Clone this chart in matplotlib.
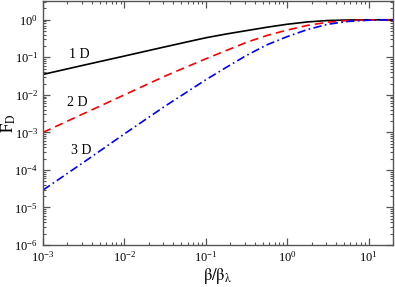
import matplotlib
matplotlib.use("Agg")
import matplotlib.pyplot as plt
from matplotlib.ticker import LogLocator, NullFormatter

plt.rcParams['font.family'] = ['Liberation Serif', 'DejaVu Serif']
plt.rcParams['mathtext.fontset'] = 'stix'

beta = [0.001, 0.00316, 0.01, 0.0316, 0.0562, 0.1, 0.178, 0.316, 0.562, 1.0, 1.78, 3.16, 5.62, 10.0, 20.0]
f_1d = [0.035, 0.0617, 0.108, 0.19, 0.251, 0.331, 0.417, 0.513, 0.631, 0.759, 0.875, 0.955, 0.986, 0.998, 1.0]
f_2d = [0.001, 0.00316, 0.01, 0.0316, 0.0537, 0.091, 0.151, 0.25, 0.38, 0.531, 0.708, 0.861, 0.955, 0.989, 1.0]
f_3d = [2.9e-5, 1.6e-4, 9.1e-4, 5.0e-3, 0.0112, 0.0251, 0.0537, 0.112, 0.214, 0.355, 0.55, 0.759, 0.902, 0.973, 1.0]
labels = ["1 D", "2 D", "3 D"]
label_pos = [(0.00277, 0.122), (0.00265, 0.0062), (0.00292, 3.2e-4)]

fig = plt.figure(figsize=(3.95, 2.87), dpi=100)
ax = fig.add_axes([43/395, 42/287, 350/395, 244/287])

ax.plot(beta, f_1d, color='black', lw=1.2, ls='-')
ax.plot(beta, f_2d, color='red', lw=1.2, ls=(0, (5, 3)))
ax.plot(beta, f_3d, color='blue', lw=1.2, ls=(0, (5, 2, 1, 2)))

for t, (x, y) in zip(labels, label_pos):
    ax.text(x, y, t, fontsize=10, ha='center', va='center')

ax.set_xscale('log')
ax.set_yscale('log')
ax.set_xlim(1e-3, 20)
ax.set_ylim(1e-6, 3.16)

ax.xaxis.set_major_locator(LogLocator(base=10, numticks=20))
ax.xaxis.set_minor_locator(LogLocator(base=10, subs=range(2, 10), numticks=20))
ax.yaxis.set_major_locator(LogLocator(base=10, numticks=20))
ax.yaxis.set_minor_locator(LogLocator(base=10, subs=range(2, 10), numticks=20))
ax.xaxis.set_minor_formatter(NullFormatter())
ax.yaxis.set_minor_formatter(NullFormatter())

ax.tick_params(which='both', direction='in', top=True, right=True, labelsize=9, color='#555555')
ax.tick_params(which='major', length=5, width=0.9)
ax.tick_params(which='minor', length=2.5, width=0.8)
for s in ax.spines.values():
    s.set_color('#555555')
    s.set_linewidth(1.0)

ax.set_xlabel(r'$\mathrm{\beta/\beta_{\lambda}}$', fontsize=12, labelpad=1)
ax.set_ylabel(r'$\mathrm{F_D}$', fontsize=12, labelpad=-3)

fig.savefig('out.png', dpi=100)
